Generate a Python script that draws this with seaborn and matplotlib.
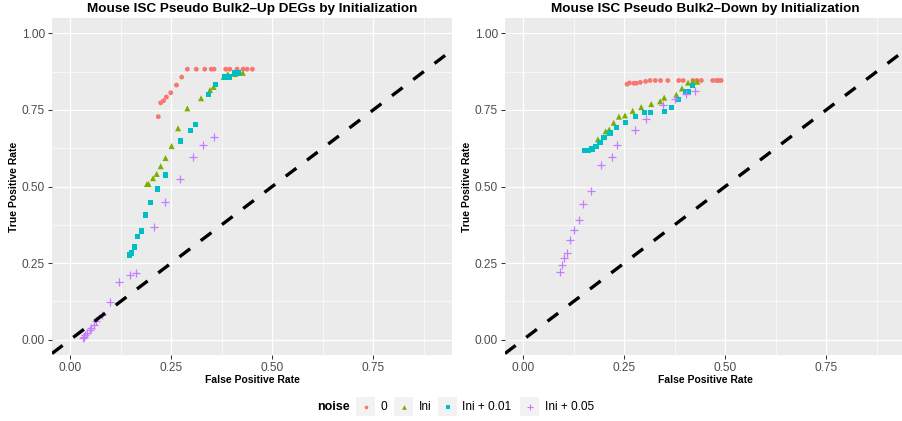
import numpy as np
import pandas as pd
import matplotlib
matplotlib.use("Agg")
import matplotlib.pyplot as plt
import seaborn as sns
from matplotlib.patches import Rectangle
from matplotlib.lines import Line2D
from matplotlib.ticker import MultipleLocator

sns.set_theme(style="darkgrid")
plt.rcParams['font.family'] = ['Liberation Sans', 'DejaVu Sans']

# ---------------- data ----------------
noise_levels = ["0", "Ini", "Ini + 0.01", "Ini + 0.05"]
panel_titles = ["Mouse ISC Pseudo Bulk2\u2013Up DEGs by Initialization",
                "Mouse ISC Pseudo Bulk2\u2013Down by Initialization"]

# Panel 1: Up DEGs
up_0_fpr = [0.218, 0.224, 0.231, 0.238, 0.249, 0.263, 0.276, 0.290, 0.312, 0.333,
            0.349, 0.356, 0.385, 0.395, 0.413, 0.428, 0.438, 0.451]
up_0_tpr = [0.728, 0.773, 0.780, 0.792, 0.806, 0.831, 0.857, 0.883, 0.883, 0.883,
            0.883, 0.883, 0.883, 0.883, 0.883, 0.883, 0.883, 0.883]
up_ini_fpr = [0.190, 0.194, 0.205, 0.214, 0.224, 0.236, 0.251, 0.267, 0.290, 0.324,
              0.346, 0.355, 0.380, 0.390, 0.408, 0.427]
up_ini_tpr = [0.508, 0.508, 0.527, 0.541, 0.566, 0.593, 0.632, 0.690, 0.755, 0.788,
              0.815, 0.825, 0.858, 0.867, 0.867, 0.871]
up_ini01_fpr = [0.147, 0.152, 0.159, 0.167, 0.176, 0.186, 0.199, 0.216, 0.236, 0.273,
                0.298, 0.310, 0.342, 0.360, 0.383, 0.394, 0.407, 0.417]
up_ini01_tpr = [0.277, 0.283, 0.303, 0.336, 0.355, 0.407, 0.447, 0.492, 0.538, 0.649,
                0.682, 0.702, 0.800, 0.832, 0.858, 0.858, 0.871, 0.871]
up_ini05_fpr = [0.031, 0.034, 0.037, 0.042, 0.048, 0.052, 0.058, 0.064, 0.078, 0.098,
                0.122, 0.147, 0.162, 0.207, 0.234, 0.271, 0.303, 0.329, 0.355]
up_ini05_tpr = [0.006, 0.009, 0.014, 0.022, 0.030, 0.038, 0.049, 0.060, 0.082, 0.122,
                0.187, 0.212, 0.219, 0.369, 0.448, 0.526, 0.597, 0.636, 0.662]

# Panel 2: Down DEGs
down_0_fpr = [0.257, 0.263, 0.274, 0.280, 0.290, 0.303, 0.314, 0.327, 0.340, 0.358,
              0.385, 0.396, 0.420, 0.430, 0.441, 0.469, 0.478, 0.484, 0.490]
down_0_tpr = [0.834, 0.838, 0.837, 0.837, 0.840, 0.843, 0.846, 0.846, 0.846, 0.846,
              0.846, 0.846, 0.846, 0.846, 0.846, 0.846, 0.846, 0.846, 0.846]
down_ini_fpr = [0.185, 0.204, 0.213, 0.224, 0.237, 0.252, 0.271, 0.292, 0.317, 0.339,
                0.349, 0.379, 0.393, 0.408, 0.420, 0.431]
down_ini_tpr = [0.654, 0.680, 0.686, 0.708, 0.728, 0.732, 0.747, 0.759, 0.769, 0.778,
                0.790, 0.800, 0.820, 0.839, 0.843, 0.842]
down_ini01_fpr = [0.152, 0.160, 0.170, 0.180, 0.190, 0.200, 0.215, 0.231, 0.253, 0.278,
                  0.300, 0.315, 0.350, 0.367, 0.384, 0.401, 0.409, 0.419]
down_ini01_tpr = [0.618, 0.618, 0.623, 0.630, 0.643, 0.659, 0.675, 0.692, 0.708, 0.728,
                  0.741, 0.741, 0.744, 0.757, 0.783, 0.809, 0.809, 0.829]
down_ini05_fpr = [0.092, 0.097, 0.102, 0.108, 0.116, 0.125, 0.137, 0.149, 0.167, 0.193,
                  0.219, 0.232, 0.276, 0.305, 0.347, 0.376, 0.402, 0.426]
down_ini05_tpr = [0.221, 0.245, 0.267, 0.282, 0.325, 0.358, 0.390, 0.443, 0.485, 0.569,
                  0.597, 0.636, 0.686, 0.721, 0.767, 0.784, 0.802, 0.811]

x_ticks = [0.00, 0.25, 0.50, 0.75]
x_tick_labels = ["0.00", "0.25", "0.50", "0.75"]
y_ticks = [0.00, 0.25, 0.50, 0.75, 1.00]
y_tick_labels = ["0.00", "0.25", "0.50", "0.75", "1.00"]


def make_frame(series):
    rows = []
    for lvl, (fx, ty) in zip(noise_levels, series):
        for a, b in zip(fx, ty):
            rows.append({"fpr": a, "tpr": b, "noise": lvl})
    return pd.DataFrame(rows)


frames = [
    make_frame([(up_0_fpr, up_0_tpr), (up_ini_fpr, up_ini_tpr),
                (up_ini01_fpr, up_ini01_tpr), (up_ini05_fpr, up_ini05_tpr)]),
    make_frame([(down_0_fpr, down_0_tpr), (down_ini_fpr, down_ini_tpr),
                (down_ini01_fpr, down_ini01_tpr), (down_ini05_fpr, down_ini05_tpr)]),
]

# ---------------- style ----------------
colors = {"0": "#F8766D", "Ini": "#7CAE00", "Ini + 0.01": "#00BFC4", "Ini + 0.05": "#C77CFF"}
markers = {"0": "o", "Ini": "^", "Ini + 0.01": "s", "Ini + 0.05": "+"}
sizes = {"0": 12, "Ini": 19, "Ini + 0.01": 15, "Ini + 0.05": 26}
legend_ms = {"0": 2.6, "Ini": 3.4, "Ini + 0.01": 3.0, "Ini + 0.05": 4.6}

W, H = 902, 421
fig = plt.figure(figsize=(W / 100, H / 100), dpi=100)
fig.patch.set_facecolor("white")

panel_px = [(52, 18, 400, 337), (505, 18, 400, 337)]
axes = []
for (px, py, pw, ph) in panel_px:
    ax = fig.add_axes([px / W, 1 - (py + ph) / H, pw / W, ph / H])
    axes.append(ax)

for ax, df, title in zip(axes, frames, panel_titles):
    ax.set_facecolor("#EBEBEB")
    ax.set_xlim(-0.045, 0.945)
    ax.set_ylim(-0.05, 1.05)
    ax.xaxis.set_major_locator(MultipleLocator(0.25))
    ax.xaxis.set_minor_locator(MultipleLocator(0.125))
    ax.yaxis.set_major_locator(MultipleLocator(0.25))
    ax.yaxis.set_minor_locator(MultipleLocator(0.125))
    ax.set_xticks(x_ticks)
    ax.set_xticklabels(x_tick_labels)
    ax.set_yticks(y_ticks)
    ax.set_yticklabels(y_tick_labels)
    ax.grid(which="major", color="white", linewidth=0.9)
    ax.grid(which="minor", color="white", linewidth=0.45)
    ax.set_axisbelow(True)
    for s in ax.spines.values():
        s.set_visible(False)
    ax.tick_params(which="major", length=2.75, width=0.75, color="#333333",
                   labelsize=8.6, labelcolor="#4D4D4D", pad=2.2,
                   bottom=True, left=True)
    ax.tick_params(which="minor", length=0, bottom=False, left=False)

    for lvl in noise_levels:
        sub = df[df["noise"] == lvl]
        if markers[lvl] == "+":
            sns.scatterplot(data=sub, x="fpr", y="tpr", ax=ax, color=colors[lvl],
                            marker="+", s=sizes[lvl], linewidth=0.9, legend=False, zorder=3)
        else:
            sns.scatterplot(data=sub, x="fpr", y="tpr", ax=ax, color=colors[lvl],
                            marker=markers[lvl], s=sizes[lvl], linewidth=0,
                            edgecolor="none", legend=False, zorder=3)

    ax.axline((0, 0), slope=1, color="black", linewidth=2.4, dashes=(4, 4),
              dash_capstyle="butt", zorder=4)

    ax.set_title(title, fontsize=9.7, fontweight="bold", color="black", pad=4.5)
    ax.set_xlabel("False Positive Rate", fontsize=7.5, fontweight="bold",
                  color="black", va="center")
    ax.set_ylabel("True Positive Rate", fontsize=7.5, fontweight="bold",
                  color="black", va="center")
    ax.xaxis.set_label_coords(0.5, -25 / 337)
    ax.yaxis.set_label_coords(-38 / 400, 0.5)

# ---------------- legend (manual, ggplot-like) ----------------
ly = 406.5
fig.text(316.7 / W, 1 - ly / H, "noise", fontsize=9.0, fontweight="bold",
         ha="left", va="center", color="black")
key_x = [356, 394, 438, 520]
lab_x = [380.7, 418.7, 462, 545.3]
for lvl, kx, tx in zip(noise_levels, key_x, lab_x):
    fig.add_artist(Rectangle((kx / W, 1 - 416 / H), 19 / W, 19 / H,
                             transform=fig.transFigure, facecolor="#F2F2F2",
                             edgecolor="none"))
    m = markers[lvl]
    ms = legend_ms[lvl]
    if m == "+":
        ln = Line2D([(kx + 9.5) / W], [1 - ly / H], marker=m, markersize=ms,
                    markeredgewidth=0.8, color=colors[lvl], linestyle="none",
                    transform=fig.transFigure)
    else:
        ln = Line2D([(kx + 9.5) / W], [1 - ly / H], marker=m, markersize=ms,
                    markeredgewidth=0, color=colors[lvl], linestyle="none",
                    transform=fig.transFigure)
    fig.add_artist(ln)
    fig.text(tx / W, 1 - ly / H, lvl, fontsize=8.6, ha="left", va="center",
             color="black")

fig.savefig("out.png", dpi=100)
